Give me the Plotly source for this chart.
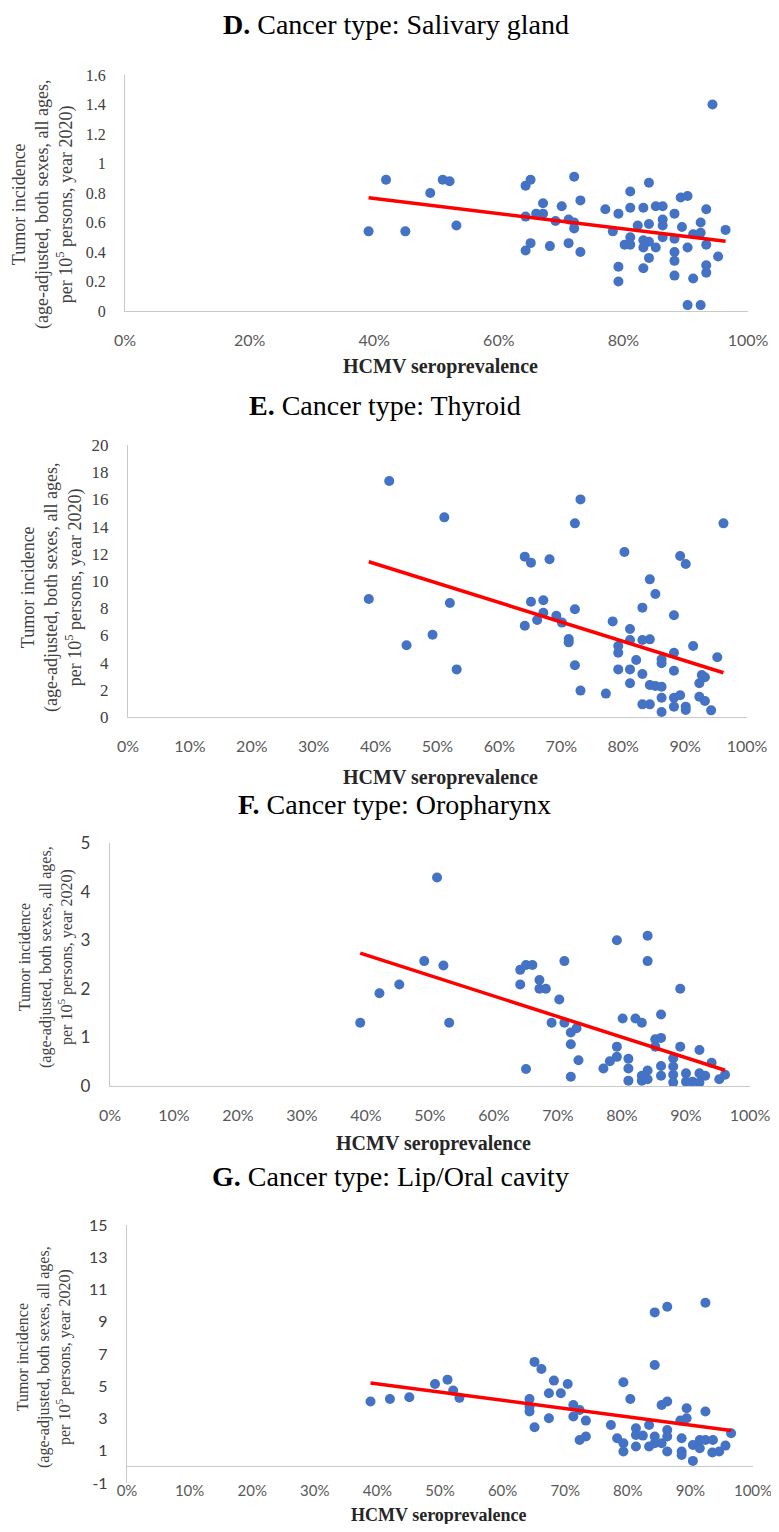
import numpy as np
import plotly.graph_objects as go

W, H = 779, 1532          # reference page size
PAD = 8                   # default body margin of the html page
FW, FH = W - 2 * PAD, H - 2 * PAD

# ---------------- data ----------------
d_x = [0.391,0.419,0.450,0.490,0.510,0.521,0.532,0.643,0.651,0.643,0.660,0.671,0.671,0.643,0.651,0.682,
       0.691,0.701,0.712,0.721,0.721,0.721,0.712,0.731,0.731,0.771,0.783,0.792,0.792,0.792,0.802,0.811,
       0.811,0.811,0.811,0.823,0.832,0.832,0.832,0.832,0.841,0.841,0.841,0.841,0.852,0.863,0.863,0.863,
       0.863,0.852,0.882,0.882,0.882,0.882,0.882,0.892,0.903,0.894,0.903,0.903,0.912,0.912,0.924,0.924,
       0.924,0.933,0.933,0.933,0.933,0.943,0.952,0.964]
d_y = [0.54,0.89,0.54,0.80,0.89,0.88,0.58,0.85,0.89,0.64,0.66,0.66,0.73,0.41,0.46,0.44,
       0.61,0.71,0.62,0.91,0.60,0.56,0.46,0.75,0.40,0.69,0.54,0.66,0.30,0.20,0.45,0.81,
       0.70,0.50,0.45,0.58,0.70,0.48,0.43,0.29,0.87,0.59,0.47,0.36,0.71,0.71,0.62,0.58,
       0.50,0.43,0.66,0.49,0.40,0.34,0.24,0.77,0.78,0.57,0.43,0.04,0.52,0.22,0.60,0.53,
       0.04,0.69,0.45,0.31,0.26,1.40,0.37,0.55]

e_x = [0.389,0.422,0.450,0.492,0.511,0.520,0.531,0.641,0.651,0.681,0.651,0.671,0.671,0.661,0.641,0.692,
       0.701,0.712,0.712,0.722,0.731,0.722,0.722,0.731,0.772,0.783,0.802,0.792,0.792,0.792,0.811,0.811,
       0.811,0.811,0.821,0.831,0.831,0.843,0.831,0.831,0.843,0.852,0.843,0.843,0.852,0.862,0.862,0.862,
       0.862,0.862,0.882,0.882,0.882,0.882,0.882,0.892,0.901,0.892,0.901,0.901,0.913,0.923,0.932,0.927,
       0.923,0.932,0.942,0.952,0.962]
e_y = [8.68,17.35,5.27,6.05,14.68,8.38,3.50,11.79,11.35,11.6,8.48,8.58,7.67,7.13,6.71,7.45,
       6.94,5.74,5.49,14.24,16.0,7.92,3.80,1.94,1.72,7.03,12.13,5.22,4.73,3.50,6.47,5.66,
       3.50,2.48,4.19,8.04,5.66,5.71,3.16,0.93,10.12,9.04,2.35,0.93,2.28,2.23,4.24,3.95,
       1.42,0.37,7.48,4.73,3.40,1.42,0.76,11.84,11.25,1.60,0.76,0.51,5.22,2.48,2.92,3.09,
       1.49,1.18,0.49,4.39,14.24]

f_x = [0.511,0.391,0.421,0.452,0.491,0.521,0.530,0.641,0.650,0.660,0.641,0.671,0.671,0.681,0.702,0.710,
       0.690,0.710,0.720,0.729,0.720,0.732,0.720,0.650,0.771,0.781,0.792,0.792,0.792,0.801,0.810,0.810,
       0.810,0.821,0.831,0.840,0.840,0.831,0.831,0.840,0.840,0.852,0.861,0.861,0.852,0.861,0.861,0.880,
       0.880,0.880,0.880,0.891,0.891,0.900,0.900,0.910,0.921,0.921,0.921,0.930,0.940,0.952,0.961]
f_y = [4.29,1.30,1.91,2.09,2.57,2.48,1.30,2.39,2.49,2.49,2.09,2.18,2.00,2.00,1.78,2.57,
       1.30,1.30,1.10,1.19,0.86,0.53,0.19,0.35,0.36,0.51,0.60,0.81,3.00,1.39,0.56,0.36,
       0.11,1.39,1.30,3.09,2.57,0.21,0.11,0.32,0.14,0.96,1.47,0.99,0.81,0.41,0.21,0.57,
       0.40,0.23,0.07,2.00,0.81,0.26,0.09,0.09,0.74,0.26,0.07,0.21,0.48,0.14,0.23]

g_x = [0.389,0.420,0.451,0.492,0.512,0.521,0.531,0.651,0.662,0.643,0.643,0.643,0.651,0.674,0.674,0.682,
       0.693,0.704,0.713,0.713,0.723,0.733,0.723,0.733,0.773,0.783,0.793,0.793,0.793,0.804,0.813,0.813,
       0.813,0.824,0.834,0.834,0.843,0.843,0.843,0.843,0.854,0.863,0.863,0.863,0.863,0.863,0.854,0.886,
       0.886,0.886,0.884,0.894,0.894,0.904,0.904,0.915,0.915,0.924,0.924,0.924,0.936,0.935,0.946,0.956,
       0.965]
g_y = [4.05,4.21,4.32,5.14,5.41,4.73,4.28,6.51,6.07,4.21,3.74,3.43,2.46,4.57,3.02,5.35,
       4.57,5.14,3.84,3.12,3.53,2.87,1.67,1.88,2.60,1.78,5.25,1.47,0.95,4.21,2.40,1.98,
       1.26,1.94,2.60,1.26,9.58,6.32,1.88,1.47,3.84,9.93,4.05,2.29,1.88,0.95,1.47,1.78,
       0.95,0.74,2.87,3.64,3.02,1.36,0.37,1.67,1.16,10.18,3.43,1.67,1.67,0.89,0.95,1.32,
       2.09]

panel_titles = ["<b>D.</b> Cancer type: Salivary gland",
                "<b>E.</b> Cancer type: Thyroid",
                "<b>F.</b> Cancer type: Oropharynx",
                "<b>G.</b> Cancer type: Lip/Oral cavity"]
x_title = "<b>HCMV seroprevalence</b>"
y_title = "Tumor incidence<br>(age-adjusted, both sexes, all ages,<br>per 10<sup>5</sup> persons, year 2020)"
g_ytick_vals = [-1, 1, 3, 5, 7, 9, 11, 13, 15]
g_ytick_text = ["-1", "1", "3", "5", "7", "9", "11", "13", "15"]

# ---------------- layout geometry (reference-page pixels) ----------------
panels = [
    dict(x=d_x, y=d_y, px=(125, 748), py=(75, 311), yr=[0, 1.6], ydt=0.2, xdt=0.2,
         title_xy=(396, 24), xt_xy=(440, 366), xt_size=20, yt_xy=(43, 205), yt_size=18,
         ytick_font="Liberation Serif", ytick_size=16, xticklen=15, xstandoff=0, xtick_size=16),
    dict(x=e_x, y=e_y, px=(128, 747), py=(445, 717), yr=[0, 20], ydt=2, xdt=0.1,
         title_xy=(385, 405), xt_xy=(440, 777), xt_size=20, yt_xy=(52, 588), yt_size=18,
         ytick_font="Liberation Serif", ytick_size=17, xticklen=15, xstandoff=0, xtick_size=16),
    dict(x=f_x, y=f_y, px=(110, 750), py=(843, 1086), yr=[0, 5], ydt=1, xdt=0.1,
         title_xy=(394, 805), xt_xy=(433, 1143), xt_size=20, yt_xy=(46, 957), yt_size=16,
         ytick_font="Lato", ytick_size=17, xticklen=15, xstandoff=0, xtick_size=16),
    dict(x=g_x, y=g_y, px=(127, 753), py=(1225, 1483), yr=[-1, 15], ydt=2, xdt=0.1,
         title_xy=(390, 1176), xt_xy=(438, 1515), xt_size=18, yt_xy=(44, 1357), yt_size=16,
         ytick_font="Lato", ytick_size=16, xticklen=0, xstandoff=-6, xtick_size=15),
]

def fx(p):
    return (p - PAD) / FW

def fy(p):
    return 1 - (p - PAD) / FH

fig = go.Figure()
annotations = []
AXIS_COLOR = "#C9C9C9"

for i, p in enumerate(panels):
    n = "" if i == 0 else str(i + 1)
    xa, ya = "x" + n, "y" + n
    xs = np.array(p["x"]); ys = np.array(p["y"])
    fig.add_trace(go.Scatter(x=xs, y=ys, mode="markers", xaxis=xa, yaxis=ya,
                             marker=dict(color="#4472C4", size=10), showlegend=False, hoverinfo="skip"))
    k, b = np.polyfit(xs, ys, 1)
    lx = np.array([xs.min(), xs.max()])
    fig.add_trace(go.Scatter(x=lx, y=k * lx + b, mode="lines", xaxis=xa, yaxis=ya,
                             line=dict(color="#FF0000", width=3.5), showlegend=False, hoverinfo="skip"))

    is_g = (i == 3)
    xaxis = dict(domain=[fx(p["px"][0]), fx(p["px"][1])], range=[0, 1], dtick=p["xdt"], tick0=0,
                 tickformat=".0%", showgrid=False, zeroline=False, automargin=False,
                 showline=not is_g, linecolor=AXIS_COLOR, linewidth=1.3,
                 ticks="outside", ticklen=p["xticklen"], tickcolor="rgba(0,0,0,0)",
                 ticklabelstandoff=p["xstandoff"], ticklabeloverflow="allow",
                 tickfont=dict(family="Lato", size=p["xtick_size"], color="#595959"),
                 anchor=ya, fixedrange=True)
    yaxis = dict(domain=[fy(p["py"][1]), fy(p["py"][0])], range=p["yr"], automargin=False,
                 showgrid=False, showline=True, linecolor=AXIS_COLOR, linewidth=1.3,
                 zeroline=is_g, zerolinecolor=AXIS_COLOR, zerolinewidth=1.3,
                 ticks="outside", ticklen=15, tickcolor="rgba(0,0,0,0)",
                 ticklabeloverflow="allow",
                 tickfont=dict(family=p["ytick_font"], size=p["ytick_size"], color="#404040"),
                 anchor=xa, fixedrange=True)
    if is_g:
        yaxis.update(tickvals=g_ytick_vals, ticktext=g_ytick_text)
    else:
        yaxis.update(dtick=p["ydt"], tick0=0)
    fig.layout["xaxis" + n] = xaxis
    fig.layout["yaxis" + n] = yaxis

    annotations.append(dict(text=panel_titles[i], x=fx(p["title_xy"][0]), y=fy(p["title_xy"][1]),
                            xref="paper", yref="paper", showarrow=False, xanchor="center", yanchor="middle",
                            font=dict(family="Liberation Serif", size=28, color="#000000")))
    annotations.append(dict(text=x_title, x=fx(p["xt_xy"][0]), y=fy(p["xt_xy"][1]),
                            xref="paper", yref="paper", showarrow=False, xanchor="center", yanchor="middle",
                            font=dict(family="Liberation Serif", size=p["xt_size"], color="#262626")))
    annotations.append(dict(text=y_title, x=fx(p["yt_xy"][0]), y=fy(p["yt_xy"][1]), textangle=-90,
                            xref="paper", yref="paper", showarrow=False, xanchor="center", yanchor="middle",
                            font=dict(family="Liberation Serif", size=p["yt_size"], color="#404040")))

fig.update_layout(width=FW, height=FH, margin=dict(l=0, r=0, t=0, b=0), autosize=False,
                  paper_bgcolor="white", plot_bgcolor="white", annotations=annotations)

fig.write_html("out.html")
